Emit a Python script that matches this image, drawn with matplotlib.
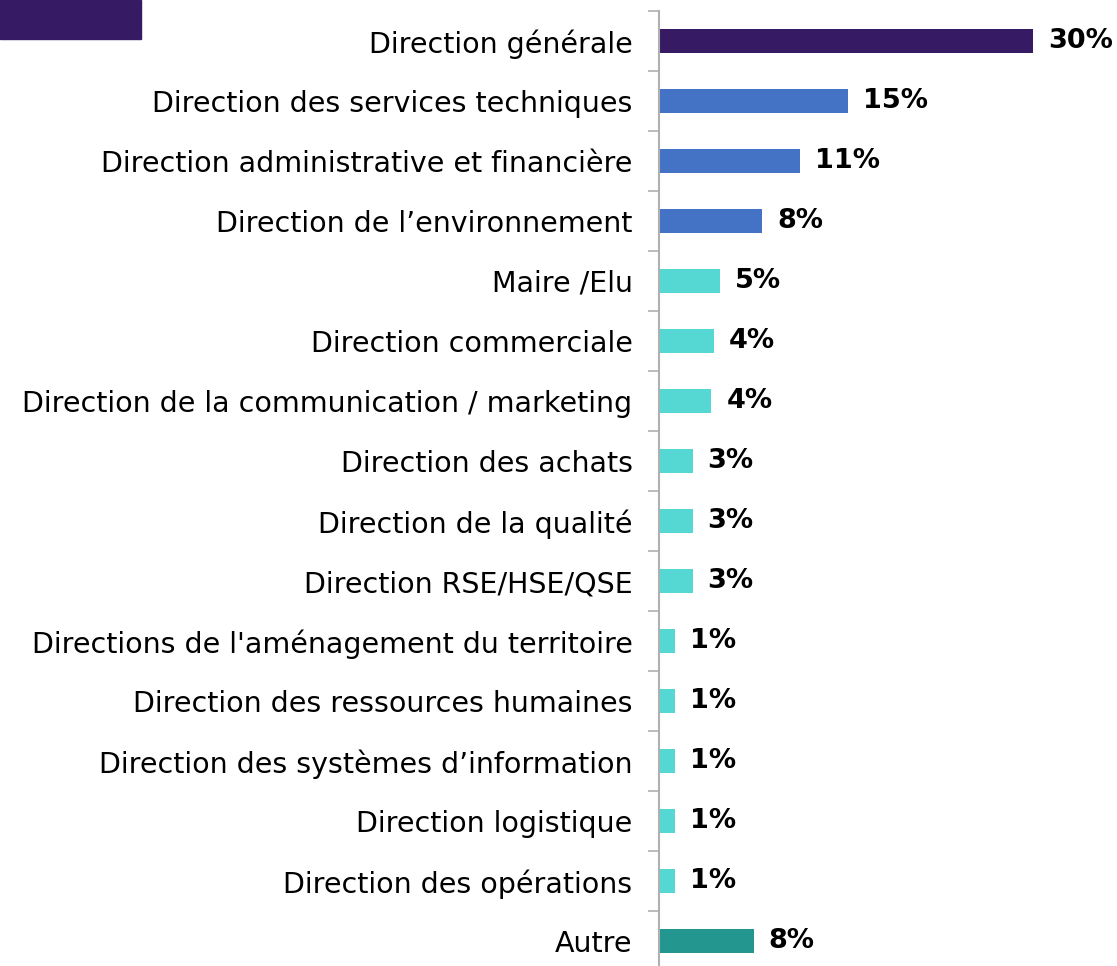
import matplotlib.pyplot as plt
import numpy as np

plt.rcParams['font.family'] = ['DejaVu Sans']

# categories top to bottom
categories = [
    "Direction générale",
    "Direction des services techniques",
    "Direction administrative et financière",
    "Direction de l’environnement",
    "Maire /Elu",
    "Direction commerciale",
    "Direction de la communication / marketing",
    "Direction des achats",
    "Direction de la qualité",
    "Direction RSE/HSE/QSE",
    "Directions de l'aménagement du territoire",
    "Direction des ressources humaines",
    "Direction des systèmes d’information",
    "Direction logistique",
    "Direction des opérations",
    "Autre",
]
values = [30.0, 15.2, 11.3, 8.3, 4.9, 4.4, 4.2, 2.7, 2.7, 2.7, 1.3, 1.3, 1.3, 1.3, 1.3, 7.6]
colors = ["#361a64"] + ["#4472c4"] * 3 + ["#55d8d3"] * 11 + ["#23978f"]

fig = plt.figure(figsize=(11.17, 9.66), dpi=100)
ax = fig.add_axes([659 / 1117, -5 / 966, 1 - 659 / 1117, 960 / 966])

y = np.arange(len(categories))
ax.barh(y, values, height=0.41, color=colors)
ax.set_ylim(len(categories) - 0.5, -0.5)
ax.set_xlim(0, 30 * 458 / 374)

for yi, v in zip(y, values):
    ax.text(v + 1.2, yi, f"{v:.0f}%", va="center", ha="left",
            fontsize=19.5, fontweight="bold", color="black")

ax.set_yticks(y)
ax.set_yticklabels(categories, fontsize=20.5)
ax.tick_params(axis="y", which="major", length=0, pad=19)
ax.set_yticks(np.arange(len(categories)) - 0.5, minor=True)
ax.tick_params(axis="y", which="minor", length=8, color="#b0b0b0", width=1.2)
ax.set_xticks([])
for s in ["top", "right", "bottom"]:
    ax.spines[s].set_visible(False)
ax.spines["left"].set_color("#b0b0b0")
ax.spines["left"].set_linewidth(1.5)

# purple block top-left
fig.patches.append(plt.Rectangle((0, 1 - 39 / 966), 141 / 1117, 39 / 966,
                                 transform=fig.transFigure, color="#361a64"))

fig.savefig("out.png", dpi=100)
